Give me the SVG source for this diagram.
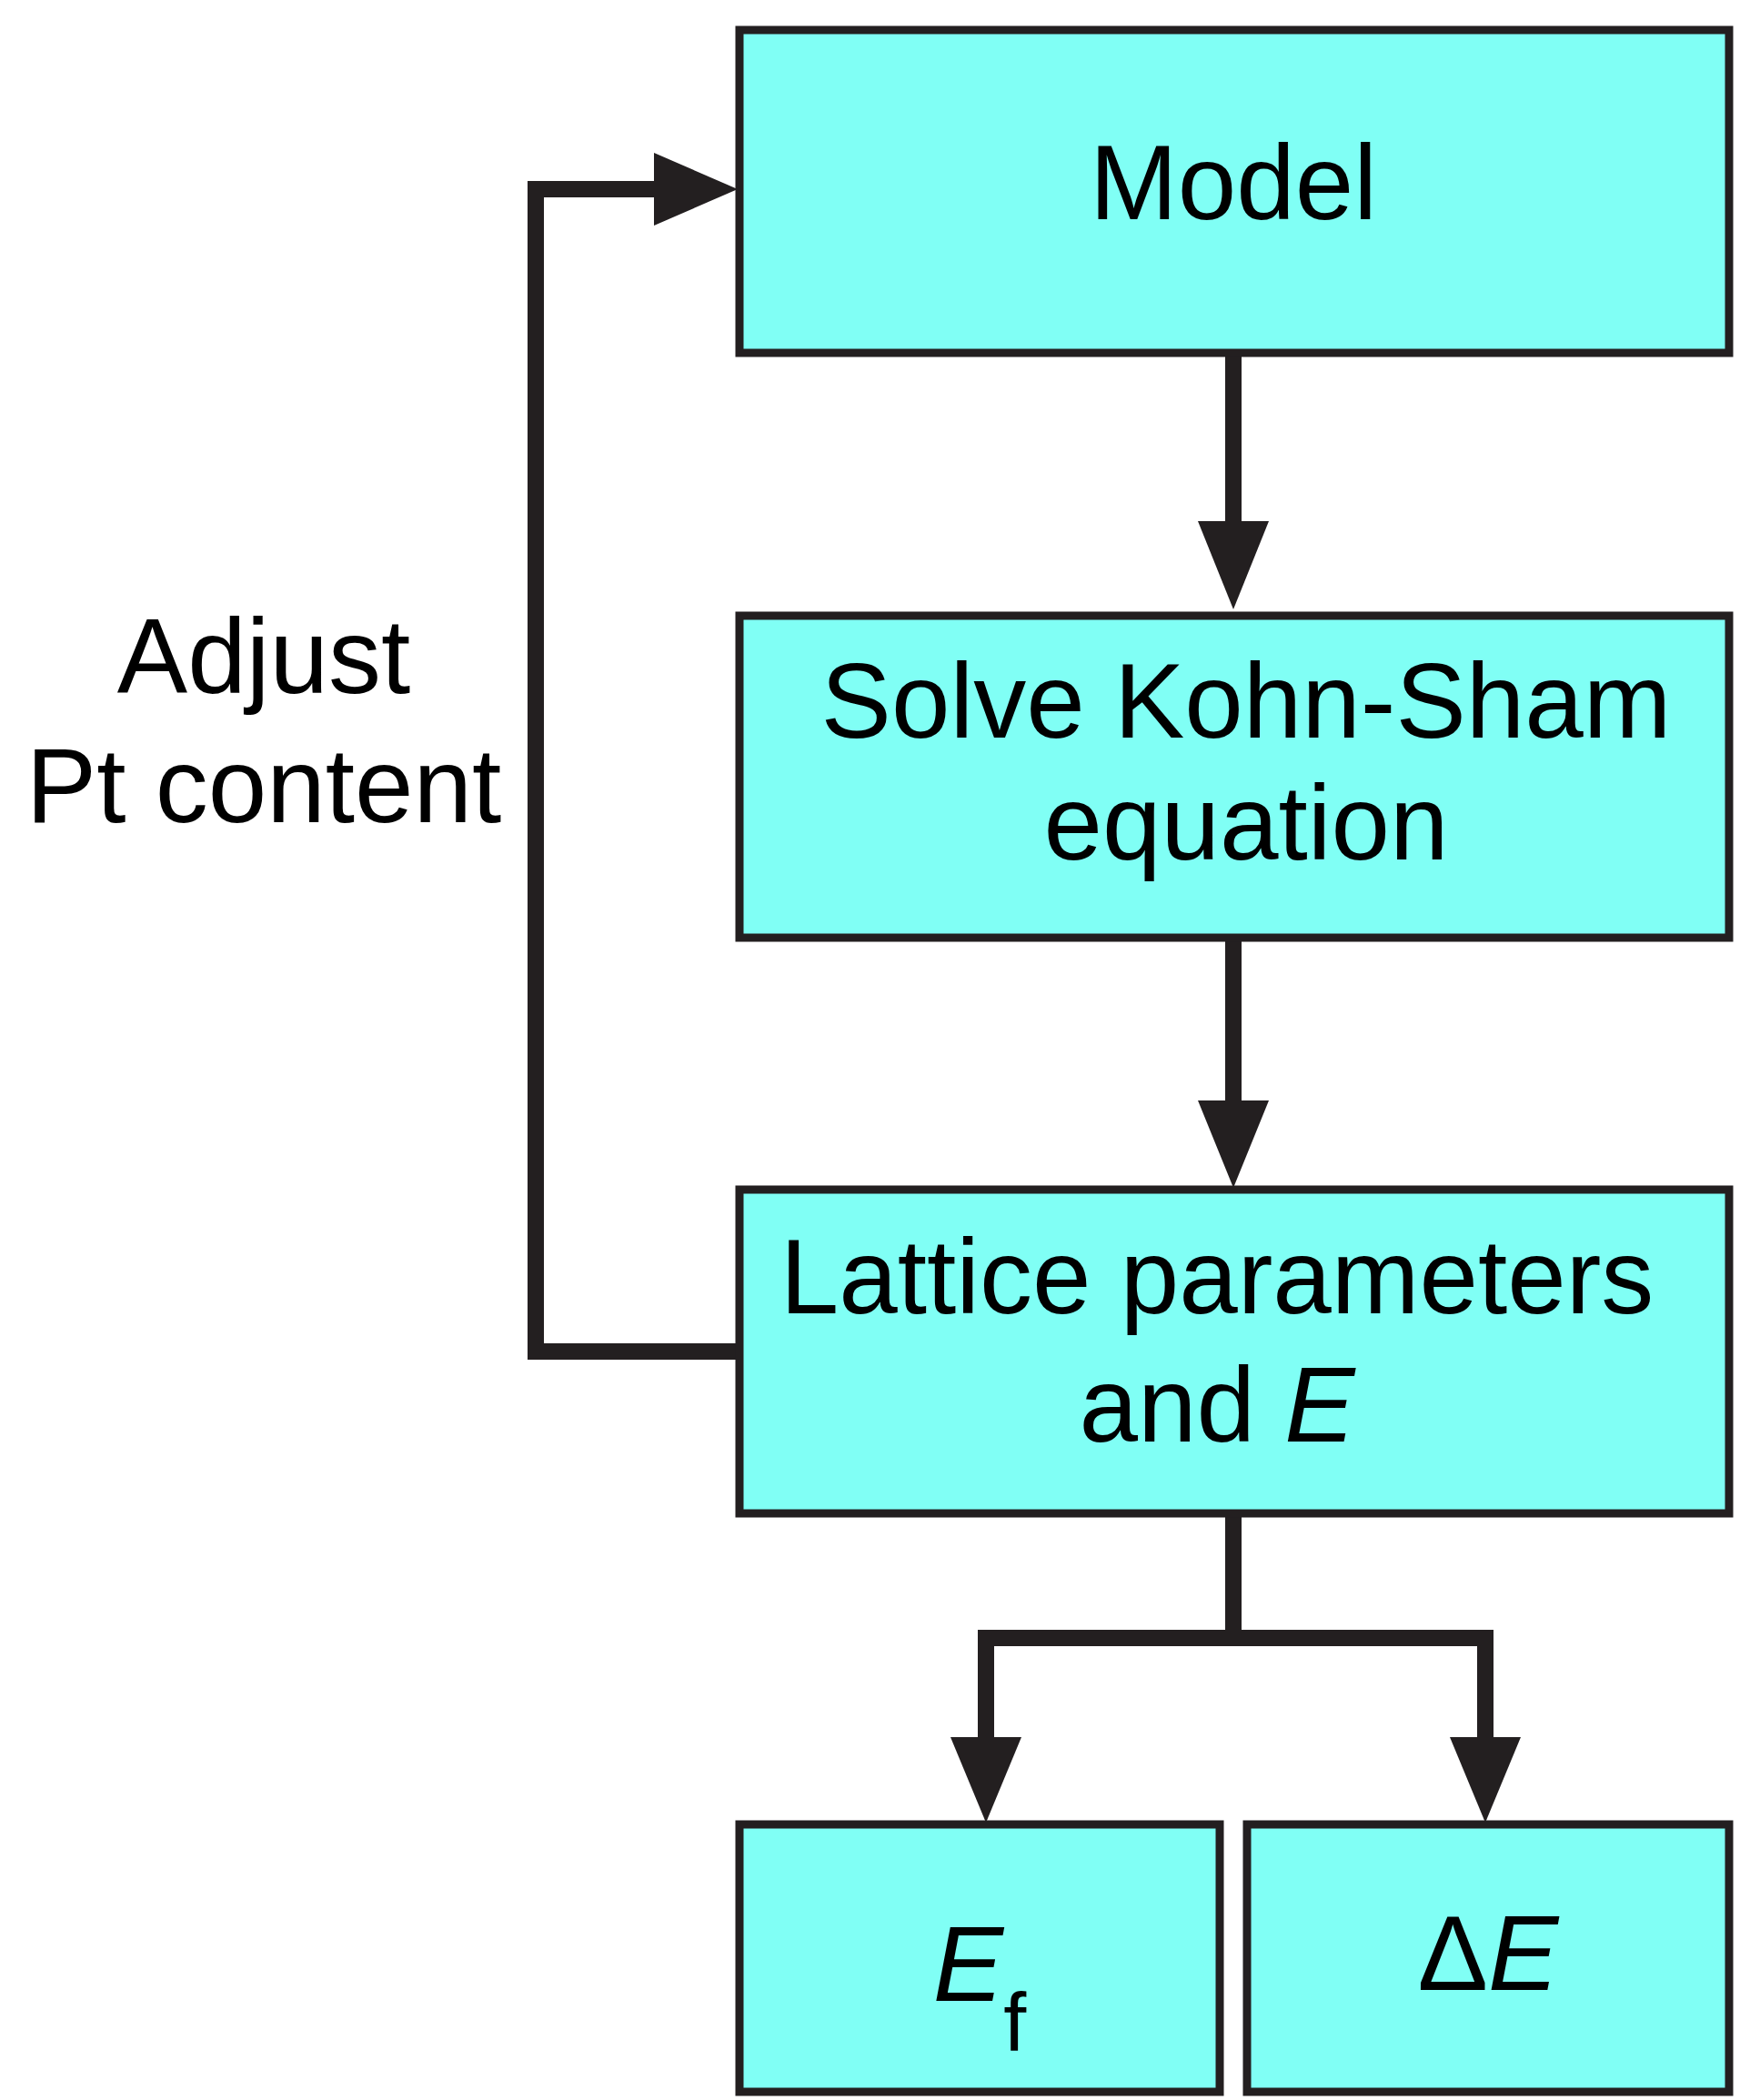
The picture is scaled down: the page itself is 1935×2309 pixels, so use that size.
<svg xmlns="http://www.w3.org/2000/svg" width="1935" height="2309" viewBox="0 0 1935 2309">
<style>
.box{fill:#80FFF5;stroke:#231F20;stroke-width:9}
.t{font-family:"Liberation Sans",Arial,sans-serif;font-size:116px;fill:#000;text-anchor:middle}
.ln{fill:none;stroke:#231F20;stroke-width:18}
.hd{fill:#231F20}
</style>
<rect width="1935" height="2309" fill="#fff"/>
<g id="connectors">
<line class="ln" x1="1356" y1="390" x2="1356" y2="585"/>
<polygon class="hd" points="1317,573 1395,573 1356,670"/>
<line class="ln" x1="1356" y1="1033" x2="1356" y2="1215"/>
<polygon class="hd" points="1317,1210 1395,1210 1356,1306"/>
<polyline class="ln" points="811,1486 589,1486 589,208 730,208"/>
<polygon class="hd" points="719,168 811,208 719,248"/>
<polyline class="ln" points="1356,1666 1356,1801 1084,1801 1084,1920"/>
<polyline class="ln" points="1356,1801 1633,1801 1633,1920"/>
<polygon class="hd" points="1045,1910 1123,1910 1084,2004"/>
<polygon class="hd" points="1594,1910 1672,1910 1633,2004"/>
</g>
<g id="model"><rect class="box" x="813" y="33" width="1088" height="355"/><text class="t" x="1356" y="241">Model</text></g>
<g id="solve"><rect class="box" x="813" y="677" width="1088" height="354"/><text class="t" x="1370" y="811">Solve Kohn-Sham</text><text class="t" x="1370" y="945">equation</text></g>
<g id="lattice"><rect class="box" x="813" y="1308" width="1088" height="356"/><text class="t" x="1338" y="1444">Lattice parameters</text><text class="t" x="1338" y="1585">and <tspan font-style="italic">E</tspan></text></g>
<g id="ef"><rect class="box" x="813" y="2006" width="528" height="294"/><text class="t" x="1077" y="2200"><tspan font-style="italic">E</tspan><tspan font-size="90" dy="55">f</tspan></text></g>
<g id="de"><rect class="box" x="1371" y="2006" width="530" height="294"/><text class="t" x="1636" y="2188">Δ<tspan font-style="italic">E</tspan></text></g>
<g id="label"><text class="t" x="290" y="762">Adjust</text><text class="t" x="290" y="904">Pt content</text></g>
</svg>
